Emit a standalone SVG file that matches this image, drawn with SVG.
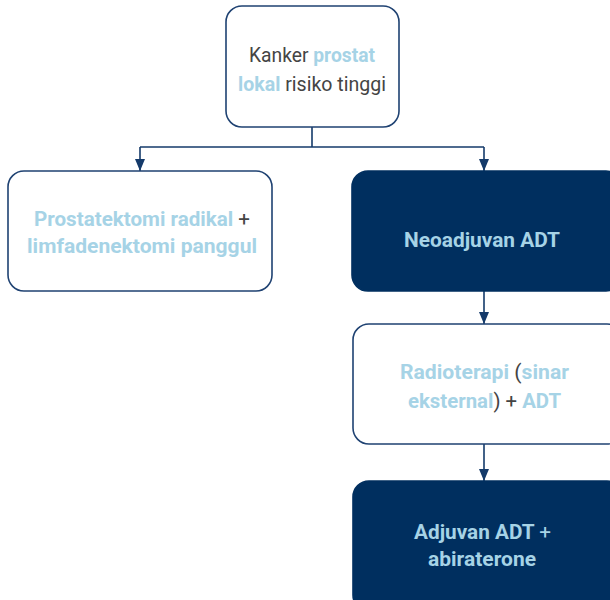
<svg xmlns="http://www.w3.org/2000/svg" width="610" height="600" viewBox="0 0 610 600">
<defs>
<marker id="arr" viewBox="0 0 12 10" refX="12" refY="5" markerWidth="12" markerHeight="10" markerUnits="userSpaceOnUse" orient="auto">
<path d="M0,0 L12,5 L0,10 Z" fill="#143a6a"/>
</marker>
<style>
.box{fill:#fff;stroke:#1f4272;stroke-width:1.6}
.dark{fill:#002f5f;stroke:#002f5f;stroke-width:1.6}
.t{font-family:Roboto,"Liberation Sans",sans-serif;text-anchor:middle;font-size:21px}
.reg{fill:#444;font-weight:400}
.b{font-weight:700;fill:#a6d3e6}
.g{fill:#444;font-weight:400}
.lb{fill:#a6d3e6;font-weight:700}
.con{fill:none;stroke:#143a6a;stroke-width:1.6}
</style>
</defs>
<g id="connectors">
<path class="con" d="M312,127 V147"/>
<path class="con" d="M140,147 H484"/>
<path class="con" d="M140,147 V171" marker-end="url(#arr)"/>
<path class="con" d="M484,147 V171" marker-end="url(#arr)"/>
<path class="con" d="M484,291 V324" marker-end="url(#arr)"/>
<path class="con" d="M484,444 V481" marker-end="url(#arr)"/>
</g>
<g id="node-top">
<rect class="box" x="226" y="6" width="173" height="121" rx="16"/>
<text class="t reg" x="312" y="62" textLength="126" lengthAdjust="spacingAndGlyphs">Kanker <tspan class="lb">prostat</tspan></text>
<text class="t reg" x="312" y="91" textLength="148" lengthAdjust="spacingAndGlyphs"><tspan class="lb">lokal</tspan> risiko tinggi</text>
</g>
<g id="node-prostatektomi">
<rect class="box" x="8" y="171" width="264" height="120" rx="16"/>
<text class="t b" x="142" y="226" textLength="216" lengthAdjust="spacingAndGlyphs">Prostatektomi radikal <tspan class="g">+</tspan></text>
<text class="t b" x="142" y="253" textLength="230" lengthAdjust="spacingAndGlyphs">limfadenektomi panggul</text>
</g>
<g id="node-neoadjuvan">
<rect class="dark" x="352" y="171" width="270" height="120" rx="16"/>
<text class="t b" x="482" y="247" textLength="156" lengthAdjust="spacingAndGlyphs">Neoadjuvan ADT</text>
</g>
<g id="node-radioterapi">
<rect class="box" x="353" y="324" width="270" height="120" rx="16"/>
<text class="t b" x="484.5" y="379" textLength="169" lengthAdjust="spacingAndGlyphs">Radioterapi <tspan class="g">(</tspan>sinar</text>
<text class="t b" x="484.5" y="408" textLength="153" lengthAdjust="spacingAndGlyphs">eksternal<tspan class="g">) + </tspan>ADT</text>
</g>
<g id="node-adjuvan">
<rect class="dark" x="353" y="481" width="270" height="130" rx="16"/>
<text class="t b" x="482.5" y="539" textLength="137" lengthAdjust="spacingAndGlyphs">Adjuvan ADT <tspan style="font-weight:400">+</tspan></text>
<text class="t b" x="482" y="566" textLength="108" lengthAdjust="spacingAndGlyphs">abiraterone</text>
</g>
</svg>
